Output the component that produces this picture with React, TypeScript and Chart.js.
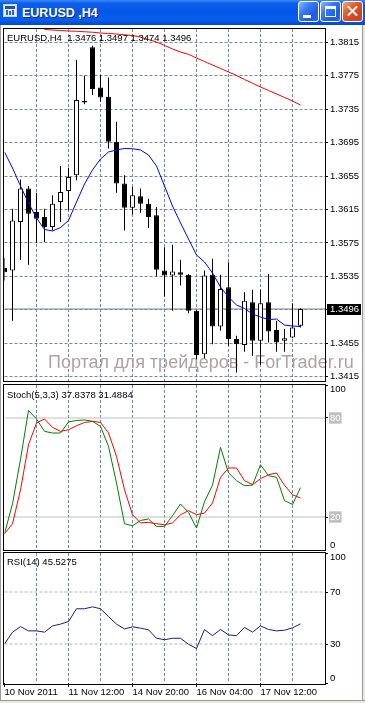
import React, { useEffect, useRef } from 'react';
import { Chart, registerables } from 'chart.js';

Chart.register(...registerables);

// ---------------- data ----------------
const symbolName = 'EURUSD';
const periodName = 'H4';

const opens = [1.3545, 1.3542, 1.36, 1.364, 1.3612, 1.3606, 1.3594, 1.3624, 1.3637, 1.3656, 1.3745, 1.3809, 1.3761, 1.375, 1.3696, 1.3646, 1.3617, 1.3631, 1.3622, 1.3608, 1.3542, 1.3536, 1.354, 1.3537, 1.3494, 1.3442, 1.3537, 1.3475, 1.3522, 1.346, 1.3453, 1.3504, 1.3458, 1.3504, 1.3471, 1.3458, 1.3462, 1.3476];
const highs = [1.3557, 1.3616, 1.3651, 1.3643, 1.3635, 1.3616, 1.3632, 1.3667, 1.3665, 1.3794, 1.3775, 1.3811, 1.3776, 1.3773, 1.372, 1.3656, 1.3642, 1.364, 1.3628, 1.3618, 1.357, 1.3573, 1.3555, 1.3538, 1.3495, 1.3542, 1.3556, 1.3537, 1.3552, 1.3464, 1.3516, 1.3519, 1.3519, 1.3538, 1.3482, 1.3472, 1.3503, 1.3497];
const lows = [1.353, 1.3482, 1.3555, 1.3549, 1.3575, 1.3576, 1.359, 1.36, 1.3614, 1.365, 1.3741, 1.3752, 1.3744, 1.3688, 1.3635, 1.359, 1.3609, 1.3611, 1.3593, 1.3535, 1.3511, 1.3494, 1.3524, 1.3491, 1.3436, 1.3437, 1.3454, 1.347, 1.3452, 1.342, 1.3445, 1.344, 1.3429, 1.3456, 1.3445, 1.3445, 1.3461, 1.3474];
const closes = [1.354, 1.3602, 1.364, 1.361, 1.3604, 1.3594, 1.3622, 1.3636, 1.3654, 1.3746, 1.3743, 1.3759, 1.3749, 1.3696, 1.3646, 1.3617, 1.3632, 1.3622, 1.3606, 1.3543, 1.3536, 1.3541, 1.3537, 1.3494, 1.3441, 1.3536, 1.3475, 1.352, 1.346, 1.3454, 1.3506, 1.3458, 1.3503, 1.3469, 1.3456, 1.3461, 1.3474, 1.3496];

const maFast = [1.36838, 1.36646, 1.36431, 1.36228, 1.36048, 1.35911, 1.35893, 1.35935, 1.36018, 1.3624, 1.36455, 1.36623, 1.36754, 1.36838, 1.36862, 1.3688, 1.36877, 1.36862, 1.36802, 1.3667, 1.36431, 1.36192, 1.35989, 1.35797, 1.35606, 1.35522, 1.3539, 1.35223, 1.35103, 1.35008, 1.34966, 1.349, 1.34864, 1.34834, 1.3484, 1.34768, 1.34757, 1.3475];
const maSlow = [null, null, null, null, null, 1.38303, 1.38297, 1.38291, 1.38285, 1.38282, 1.38276, 1.3827, 1.38261, 1.38255, 1.38249, 1.3824, 1.38231, 1.38213, 1.38183, 1.38154, 1.38112, 1.3807, 1.38034, 1.38006, 1.37962, 1.3792, 1.37878, 1.37837, 1.37795, 1.37753, 1.37705, 1.3766, 1.37615, 1.37573, 1.37532, 1.3749, 1.37448, 1.374];

const stochMain = [9.9, 28, 55, 84.6, 79.4, 71.9, 70.9, 70.9, 77.6, 78.5, 78.8, 78, 74.9, 62.8, 40.6, 15.9, 14.7, 17.9, 18.8, 14.3, 14.3, 20.8, 27.9, 22.8, 13.3, 29.3, 39.3, 62.2, 46.8, 42, 39, 39.3, 51.7, 45, 44.1, 29.9, 27.6, 37.8378];
const stochSignal = [9.9, 15.9, 36.5, 63.8, 77, 79.4, 74.3, 71.9, 72.9, 75.3, 77.3, 78, 77.3, 70.9, 56.7, 36.5, 21.4, 16.4, 16.7, 15.9, 15.3, 16.4, 21.4, 23.8, 21.4, 22.4, 28.5, 44, 49.7, 49.7, 42, 39.6, 43.2, 45.6, 46.7, 39.2, 33.5, 31.4884];
const rsiValues = [30, 39.1, 43.4, 40.1, 40.1, 39.1, 43.9, 45.3, 47.3, 57.1, 57.1, 58.6, 57.1, 51.1, 45.3, 41.6, 43.2, 42.2, 40.9, 34.4, 33.3, 34.4, 34.4, 29.8, 26.5, 41.1, 36.4, 41.2, 37, 36.4, 42.8, 39.1, 43.9, 41.2, 40.1, 40.6, 42.4, 45.5275];

const priceTicks = [1.3415, 1.3455, 1.3495, 1.3535, 1.3575, 1.3615, 1.3655, 1.3695, 1.3735, 1.3775, 1.3815];
const stochLevels = [20, 80];
const rsiLevels = [30, 70];
const oscBounds = [0, 100];
const timeLabelBars = [0, 8, 16, 24, 32];
const timeLabels = ['10 Nov 2011', '11 Nov 12:00', '14 Nov 20:00', '16 Nov 04:00', '17 Nov 12:00'];
const watermarkText = 'Портал для трейдеров - ForTrader.ru';

// ---------------- style / view ----------------
const FONT = "'Liberation Sans', Arial, Helvetica, sans-serif";
const FS = 9.5;
const GRID = '#778899';
const DASH = [3, 2];
const X_MAX = 40.0625;
const PRICE_MIN = 1.34099;
const PRICE_MAX = 1.38309;
const AXIS_W = 40;

Chart.defaults.font.family = FONT;

const idx = closes.map((_, i) => i);
const gridBars = idx.filter((i) => i % 4 === 0);
const last = closes.length - 1;
const pts = (arr: (number | null)[]) => arr.map((v, i) => ({ x: i, y: v }));
const tickFont = { family: FONT, size: FS };

function makeX(showLabels: boolean): any {
  return {
    type: 'linear',
    min: 0,
    max: X_MAX,
    offset: false,
    afterBuildTicks: (s: any) => {
      s.ticks = gridBars.map((v) => ({ value: v }));
    },
    afterFit: (s: any) => {
      s.height = showLabels ? 17 : 0;
      s.paddingLeft = 0;
      s.paddingRight = 0;
    },
    grid: {
      offset: false,
      color: (c: any) => (c.tick && c.tick.value === 0 ? 'rgba(0,0,0,0)' : GRID),
      lineWidth: 1,
      drawTicks: showLabels,
      tickLength: 4,
      tickColor: (c: any) => (c.tick && timeLabelBars.includes(c.tick.value) ? '#000' : 'rgba(0,0,0,0)'),
    },
    border: { display: false, dash: DASH },
    ticks: {
      display: showLabels,
      autoSkip: false,
      maxRotation: 0,
      minRotation: 0,
      align: 'start',
      padding: 0,
      color: '#000',
      font: tickFont,
      callback: (v: number) => {
        const k = timeLabelBars.indexOf(v);
        return k >= 0 ? timeLabels[k] : '';
      },
    },
  };
}

function oscAxes(levels: number[], boxed: boolean): any {
  const edge = (value: number, align: string) => ({
    position: 'right',
    weight: 0,
    min: oscBounds[0],
    max: oscBounds[1],
    afterBuildTicks: (s: any) => {
      s.ticks = [{ value }];
    },
    afterFit: (s: any) => {
      s.width = 0;
      s.paddingTop = 0;
      s.paddingBottom = 0;
    },
    grid: { drawOnChartArea: false, drawTicks: true, tickLength: 3, tickColor: '#000', color: '#000' },
    border: { display: false },
    ticks: { align, padding: 2, color: '#000', font: tickFont, autoSkip: false, callback: (v: number) => String(v) },
  });
  return {
    y: {
      position: 'right',
      weight: 1,
      min: oscBounds[0],
      max: oscBounds[1],
      afterBuildTicks: (s: any) => {
        s.ticks = levels.map((v) => ({ value: v }));
      },
      afterFit: (s: any) => {
        s.width = AXIS_W;
        s.paddingTop = 0;
        s.paddingBottom = 0;
      },
      grid: { drawOnChartArea: false, drawTicks: true, tickLength: 3, tickColor: '#000', color: '#000' },
      border: { display: true, color: '#000', width: 1 },
      ticks: {
        autoSkip: false,
        padding: 2,
        font: tickFont,
        color: boxed ? '#FFFFFF' : '#000000',
        showLabelBackdrop: boxed,
        backdropColor: '#C0C0C0',
        backdropPadding: { top: 0, bottom: 0, left: 1, right: 1 },
        callback: (v: number) => String(v),
      },
    },
    yTop: edge(oscBounds[1], 'start'),
    yBot: edge(oscBounds[0], 'end'),
  };
}

// the 0-width edge axes need a label clip area as wide as the axis column
const widenEdgeAxes = {
  id: 'widenEdgeAxes',
  afterLayout(chart: any) {
    ['yTop', 'yBot'].forEach((k) => {
      const s = chart.scales[k];
      if (s) s.right = s.left + AXIS_W;
    });
  },
};

function headerPlugin(id: string, text: string, y: number) {
  return {
    id,
    afterDraw(chart: any) {
      const ctx = chart.ctx;
      ctx.save();
      ctx.font = `${FS}px ${FONT}`;
      ctx.fillStyle = '#000';
      ctx.textBaseline = 'middle';
      ctx.textAlign = 'left';
      ctx.fillText(text, 7, y);
      ctx.restore();
    },
  };
}

const baseOptions = {
  responsive: false,
  maintainAspectRatio: false,
  animation: false,
  devicePixelRatio: 1,
  events: [],
  layout: { padding: { left: 4.5, right: 0, top: 0, bottom: 0 } },
  plugins: { legend: { display: false }, tooltip: { enabled: false } },
};

function mainConfig(): any {
  const header = `${symbolName},${periodName}  ${opens[last].toFixed(4)} ${highs[last].toFixed(4)} ${lows[last].toFixed(4)} ${closes[last].toFixed(4)}`;
  return {
    type: 'bar',
    data: {
      datasets: [
        { type: 'line', label: 'MA fast', data: pts(maFast), borderColor: '#0000FF', borderWidth: 1, pointRadius: 0, tension: 0, order: 0 },
        { type: 'line', label: 'MA slow', data: pts(maSlow), borderColor: '#FF0000', borderWidth: 1, pointRadius: 0, tension: 0, order: 0 },
        {
          type: 'bar',
          label: 'body',
          data: idx.map((i) => ({ x: i, y: [opens[i], closes[i]] })),
          backgroundColor: idx.map((i) => (closes[i] >= opens[i] ? '#FFFFFF' : '#000000')),
          borderColor: '#000000',
          borderWidth: 1,
          borderSkipped: false,
          maxBarThickness: 5,
          grouped: false,
          inflateAmount: 0,
          minBarLength: 1,
          order: 1,
        },
        {
          type: 'bar',
          label: 'wick',
          data: idx.map((i) => ({ x: i, y: [lows[i], highs[i]] })),
          backgroundColor: '#000000',
          borderWidth: 0,
          maxBarThickness: 1,
          grouped: false,
          inflateAmount: 0,
          order: 2,
        },
        {
          type: 'line',
          label: 'bid',
          data: [{ x: 0, y: closes[last] }, { x: X_MAX, y: closes[last] }],
          borderColor: GRID,
          borderWidth: 1,
          pointRadius: 0,
          order: 3,
        },
      ],
    },
    options: {
      ...baseOptions,
      scales: {
        x: makeX(false),
        y: {
          position: 'right',
          min: PRICE_MIN,
          max: PRICE_MAX,
          afterBuildTicks: (s: any) => {
            s.ticks = priceTicks.map((v) => ({ value: v }));
          },
          afterFit: (s: any) => {
            s.width = AXIS_W;
            s.paddingTop = 0;
            s.paddingBottom = 0;
          },
          grid: { color: GRID, drawTicks: true, tickLength: 3, tickColor: '#000' },
          border: { display: true, color: '#000', width: 1, dash: DASH },
          ticks: {
            autoSkip: false,
            padding: 2,
            color: '#000',
            font: tickFont,
            callback: (v: number) => (Math.abs(v - closes[last]) < 0.0003 ? '' : v.toFixed(4)),
          },
        },
      },
    },
    plugins: [
      {
        id: 'watermark',
        beforeDatasetsDraw(chart: any) {
          const ctx = chart.ctx;
          ctx.save();
          ctx.font = `18px ${FONT}`;
          ctx.fillStyle = '#AFA2A2';
          ctx.textBaseline = 'alphabetic';
          ctx.textAlign = 'left';
          ctx.fillText(watermarkText, 48, 339);
          ctx.restore();
        },
      },
      headerPlugin('mainHeader', header, 9),
      {
        id: 'priceBox',
        afterDraw(chart: any) {
          const ctx = chart.ctx;
          const y = Math.round(chart.scales.y.getPixelForValue(closes[last]));
          const x = chart.chartArea.right + 2;
          ctx.save();
          ctx.fillStyle = '#000';
          ctx.fillRect(x, y - 5, 34, 11);
          ctx.fillStyle = '#FFF';
          ctx.font = `${FS}px ${FONT}`;
          ctx.textBaseline = 'middle';
          ctx.textAlign = 'left';
          ctx.fillText(closes[last].toFixed(4), x + 3, y + 0.5);
          ctx.restore();
        },
      },
    ],
  };
}

function stochConfig(): any {
  const header = `Stoch(5,3,3) ${stochMain[last].toFixed(4)} ${stochSignal[last].toFixed(4)}`;
  return {
    type: 'line',
    data: {
      datasets: [
        { label: 'Signal', data: pts(stochSignal), borderColor: '#FF0000', borderWidth: 1, pointRadius: 0, tension: 0, order: 0 },
        { label: 'Main', data: pts(stochMain), borderColor: '#008000', borderWidth: 1, pointRadius: 0, tension: 0, order: 1 },
        ...stochLevels.map((l) => ({
          label: `level ${l}`,
          data: [{ x: 0, y: l }, { x: X_MAX, y: l }],
          borderColor: '#C0C0C0',
          borderWidth: 1,
          pointRadius: 0,
          order: 2,
        })),
      ],
    },
    options: {
      ...baseOptions,
      scales: { x: makeX(false), ...oscAxes(stochLevels, true) },
    },
    plugins: [widenEdgeAxes, headerPlugin('stochHeader', header, 10)],
  };
}

function rsiConfig(): any {
  const header = `RSI(14) ${rsiValues[last].toFixed(4)}`;
  return {
    type: 'line',
    data: {
      datasets: [
        { label: 'RSI', data: pts(rsiValues), borderColor: '#1C1C80', borderWidth: 1, pointRadius: 0, tension: 0, order: 0 },
        ...rsiLevels.map((l) => ({
          label: `level ${l}`,
          data: [{ x: 0, y: l }, { x: X_MAX, y: l }],
          borderColor: '#B4B4B4',
          borderDash: DASH,
          borderWidth: 1,
          pointRadius: 0,
          order: 1,
        })),
      ],
    },
    options: {
      ...baseOptions,
      scales: { x: makeX(true), ...oscAxes(rsiLevels, false) },
    },
    plugins: [widenEdgeAxes, headerPlugin('rsiHeader', header, 9)],
  };
}

const abs = (left: number, top: number, width: number, height: number, extra: any = {}): React.CSSProperties => ({
  position: 'absolute',
  left,
  top,
  width,
  height,
  boxSizing: 'border-box',
  ...extra,
});

const blueBtn = 'linear-gradient(135deg, #8CB8FF 0%, #3A7BF5 35%, #1F5CE6 70%, #2A66EC 100%)';
const redBtn = 'linear-gradient(135deg, #F5A886 0%, #E4602F 35%, #D3451C 70%, #C9461F 100%)';

export default function App() {
  const mainRef = useRef<HTMLCanvasElement>(null);
  const stochRef = useRef<HTMLCanvasElement>(null);
  const rsiRef = useRef<HTMLCanvasElement>(null);

  useEffect(() => {
    const charts = [
      new Chart(mainRef.current as HTMLCanvasElement, mainConfig()),
      new Chart(stochRef.current as HTMLCanvasElement, stochConfig()),
      new Chart(rsiRef.current as HTMLCanvasElement, rsiConfig()),
    ];
    return () => charts.forEach((c) => c.destroy());
  }, []);

  return (
    <div style={abs(0, 0, 365, 703, { background: '#FFFFFF', overflow: 'hidden', fontFamily: FONT })}>
      {/* title bar */}
      <div
        style={abs(0, 0, 365, 25, {
          background: 'linear-gradient(180deg, #3B8CFB 0%, #0E5EEB 12%, #0458E9 45%, #0A5EEC 80%, #0247C9 100%)',
        })}
      >
        <div style={abs(3, 4, 14, 13, { background: '#E8EEF8', border: '1px solid #C8D4EC' })}>
          <div style={abs(1, 1, 10, 3, { background: '#2050B0' })} />
          <div style={abs(2, 5, 2, 5, { background: '#3060D0' })} />
          <div style={abs(5, 6, 2, 4, { background: '#3060D0' })} />
          <div style={abs(8, 5, 2, 5, { background: '#3060D0' })} />
        </div>
        <div
          style={abs(22, 4, 120, 18, {
            color: '#FFFFFF',
            fontWeight: 'bold',
            fontSize: 12.5,
            lineHeight: '18px',
            textShadow: '1px 1px 0 #0A2A90',
            whiteSpace: 'nowrap',
          })}
        >
          {`${symbolName} ,${periodName}`}
        </div>
        <div style={abs(298, 1, 21, 21, { background: blueBtn, border: '1px solid #FFFFFF', borderRadius: 3 })}>
          <div style={abs(4, 13, 8, 3, { background: '#FFFFFF' })} />
        </div>
        <div style={abs(320, 1, 21, 21, { background: blueBtn, border: '1px solid #FFFFFF', borderRadius: 3 })}>
          <div style={abs(4, 4, 11, 11, { border: '1px solid #FFFFFF', borderTop: '3px solid #FFFFFF' })} />
        </div>
        <div style={abs(342, 1, 21, 21, { background: redBtn, border: '1px solid #FFFFFF', borderRadius: 3 })}>
          <div style={abs(3, 8, 13, 2, { background: '#FFFFFF', transform: 'rotate(45deg)' })} />
          <div style={abs(3, 8, 13, 2, { background: '#FFFFFF', transform: 'rotate(-45deg)' })} />
        </div>
      </div>

      {/* window edges */}
      <div style={abs(0, 25, 1, 678, { background: '#9A9A9A' })} />
      <div style={abs(362, 25, 1, 678, { background: '#9A9A9A' })} />
      <div style={abs(363, 25, 2, 678, { background: '#ECE9D8' })} />
      <div style={abs(0, 700, 365, 1, { background: '#9A9A9A' })} />
      <div style={abs(0, 701, 365, 2, { background: '#ECE9D8' })} />

      {/* charts */}
      <canvas ref={mainRef} width={365} height={352} style={abs(0, 29, 365, 352, { display: 'block' })} />
      <canvas ref={stochRef} width={365} height={165} style={abs(0, 385, 365, 165, { display: 'block' })} />
      <canvas ref={rsiRef} width={365} height={147} style={abs(0, 553, 365, 147, { display: 'block' })} />

      {/* pane frames */}
      <div style={abs(3, 28, 323, 354, { border: '1px solid #000', pointerEvents: 'none' })} />
      <div style={abs(3, 384, 323, 167, { border: '1px solid #000', pointerEvents: 'none' })} />
      <div style={abs(3, 552, 323, 133, { border: '1px solid #000', pointerEvents: 'none' })} />
    </div>
  );
}
